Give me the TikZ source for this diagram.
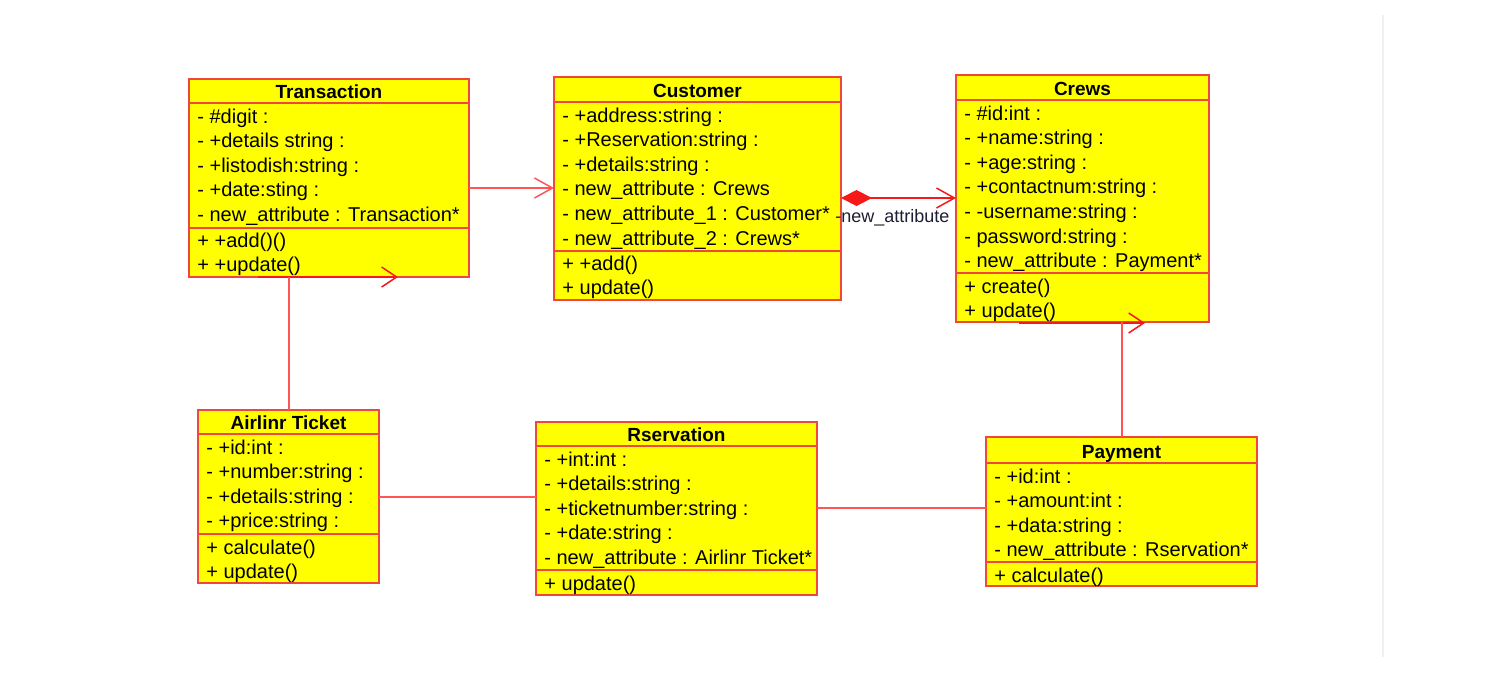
\documentclass[tikz,border=0pt]{standalone}
\usepackage{fontspec}
\setmainfont{Liberation Sans}
\usetikzlibrary{arrows.meta}
\definecolor{boxfill}{RGB}{255,255,0}
\definecolor{boxline}{RGB}{240,70,60}
\definecolor{linkred}{RGB}{255,85,85}
\definecolor{compred}{RGB}{245,25,25}
\definecolor{labelnavy}{RGB}{30,30,50}
\definecolor{faintgray}{RGB}{240,240,240}

\newcommand{\umlclass}[8]{%
  \node[classbox, minimum width={(#4-#2)*0.5pt}, minimum height={(#5-#3)*0.5pt}]
    (#1) at ({(#2+#4)/2},{(#3+#5)/2}) {};
  \draw[sepline] (#1.west |- 0,#6) -- (#1.east |- 0,#6);
  \draw[sepline] (#1.west |- 0,#7) -- (#1.east |- 0,#7);
  \node[titletext] (#1-title) at ({(#2+#4)/2},{#6-5}) {#8};
}
\newcommand{\umlmembers}[4]{%
  \foreach \mtext [count=\mi] in {#4} {
    \node[membertext] (#1\mi) at (#2,{#3+(\mi-1)*24.6}) {\mtext};
  }
}

\begin{document}
\begin{tikzpicture}[x=0.5pt,y=-0.5pt,
  classbox/.style={draw=boxline, fill=boxfill, line width=1pt, rectangle, inner sep=0pt, outer sep=0pt},
  sepline/.style={draw=boxline, line width=1pt},
  titletext/.style={font=\fontsize{9.5}{11}\selectfont\bfseries, anchor=base, inner sep=0pt},
  membertext/.style={font=\fontsize{10}{12}\selectfont, anchor=base west, inner sep=0pt},
  labeltext/.style={font=\fontsize{9}{11}\selectfont, text=labelnavy, anchor=base west, inner sep=0pt},
  assoc/.style={draw=linkred, line width=0.75pt},
  navarrow/.style={assoc, -{Straight Barb[length=9pt,width=10pt]}},
  selfarrow/.style={draw=compred, line width=1.1pt, -{Straight Barb[length=7.5pt,width=10pt,line width=0.75pt]}},
  comp/.style={draw=compred, line width=1.1pt,
    {Diamond[length=15.5pt,width=8pt,fill=compred]}-{Straight Barb[length=9pt,width=10pt,line width=0.75pt]}}
]
\fill[white] (0,0) rectangle (1502,682);
\useasboundingbox (0,0) rectangle (1502,682);
\draw[faintgray, line width=1pt] (1383,15) -- (1383,657);

% Transaction
\umlclass{trans}{189}{79}{469}{277}{103}{228}{Transaction}
\umlmembers{trans-a}{197}{123}{- \#digit :, - +details string :, - +listodish:string :, - +date:sting :, - new\_attribute : Transaction*}
\umlmembers{trans-m}{197}{247}{+ +add()(), + +update()}

% Customer
\umlclass{cust}{554}{77}{841}{300}{102}{251}{Customer}
\umlmembers{cust-a}{562}{122}{- +address:string :, - +Reservation:string :, - +details:string :, - new\_attribute : Crews, - new\_attribute\_1 : Customer*, - new\_attribute\_2 : Crews*}
\umlmembers{cust-m}{562}{270}{+ +add(), + update()}

% Crews
\umlclass{crews}{956}{75}{1209}{322}{100}{273}{Crews}
\umlmembers{crews-a}{964}{120}{- \#id:int :, - +name:string :, - +age:string :, - +contactnum:string :, - -username:string :, - password:string :, - new\_attribute : Payment*}
\umlmembers{crews-m}{964}{293}{+ create(), + update()}

% Airlinr Ticket
\umlclass{ticket}{198}{410}{379}{583}{434}{534}{Airlinr Ticket}
\umlmembers{ticket-a}{206}{454}{- +id:int :, - +number:string :, - +details:string :, - +price:string :}
\umlmembers{ticket-m}{206}{554}{+ calculate(), + update()}

% Rservation
\umlclass{resv}{536}{422}{817}{595}{446}{570}{Rservation}
\umlmembers{resv-a}{544}{466}{- +int:int :, - +details:string :, - +ticketnumber:string :, - +date:string :, - new\_attribute : Airlinr Ticket*}
\umlmembers{resv-m}{544}{590}{+ update()}

% Payment
\umlclass{pay}{986}{437}{1257}{586}{463}{562}{Payment}
\umlmembers{pay-a}{994}{483}{- +id:int :, - +amount:int :, - +data:string :, - new\_attribute : Rservation*}
\umlmembers{pay-m}{994}{582}{+ calculate()}

% connectors
\draw[navarrow] (trans.east |- 0,188) -- (cust.west |- 0,188);
\coordinate (tselfA) at (258,277);
\coordinate (tselfB) at (398,277);
\draw[selfarrow] (tselfA) -- (tselfB);
\draw[assoc] (trans.south -| 289,0) -- (ticket.north -| 289,0);

\draw[comp] (cust.east |- 0,198) -- (crews.west |- 0,198);
\node[labeltext] (complabel) at (835,222) {-new\_attribute};

\coordinate (cselfA) at (1019,323);
\coordinate (cselfB) at (1145,323);
\draw[selfarrow] (cselfA) -- (cselfB);
\draw[assoc] (crews.south -| 1122,0) -- (pay.north -| 1122,0);

\draw[assoc] (ticket.east |- 0,497) -- (resv.west |- 0,497);
\draw[assoc] (resv.east |- 0,508) -- (pay.west |- 0,508);
\end{tikzpicture}
\end{document}
